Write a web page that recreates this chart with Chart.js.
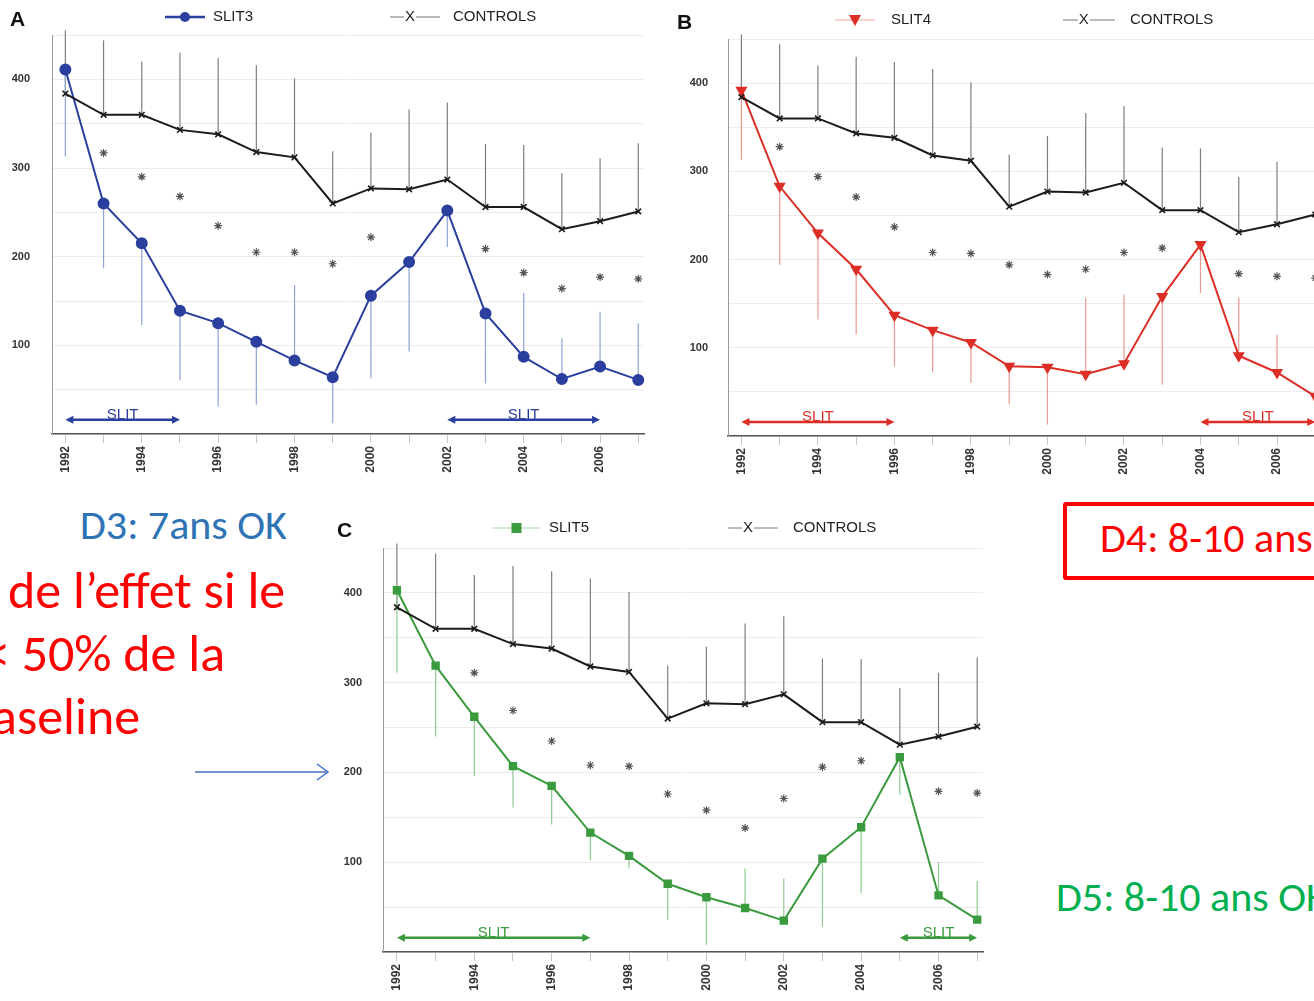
<!DOCTYPE html>
<html>
<head>
<meta charset="utf-8">
<script src="https://cdn.jsdelivr.net/npm/chart.js@4.4.0/dist/chart.umd.min.js"></script>
<style>
body { margin: 0; width: 1314px; height: 1001px; overflow: hidden; background: #fff; position: relative; }
canvas { position: absolute; }
.note { position: absolute; white-space: nowrap; font-family: Carlito, Lato, "Open Sans", sans-serif; line-height: 1; }
</style>
</head>
<body>
<canvas id="chartA" width="660" height="480" style="left:0;top:0"></canvas>
<canvas id="chartB" width="680" height="490" style="left:670px;top:0"></canvas>
<canvas id="chartC" width="670" height="496" style="left:330px;top:505px"></canvas>

<div class="note" style="left:80px;top:504px;font-size:42px;color:#2e74b5">D3: 7ans OK</div>
<div class="note" style="left:8px;top:564px;font-size:52px;color:#ff0000">de l’effet si le</div>
<div class="note" style="left:-16px;top:627px;font-size:52px;color:#ff0000">&lt; 50% de la</div>
<div class="note" style="left:-8px;top:690px;font-size:52px;color:#ff0000">aseline</div>
<div style="position:absolute;left:1063px;top:502px;width:262px;height:70px;border:4px solid #ff0000;border-radius:3px"></div>
<div class="note" style="left:1100px;top:517px;font-size:42px;color:#ff0000">D4: 8-10 ans</div>
<div class="note" style="left:1056px;top:876px;font-size:42px;color:#00b050">D5: 8-10 ans OK</div>
<svg style="position:absolute;left:0;top:0" width="1314" height="1001">
  <line x1="195" y1="772" x2="328" y2="772" stroke="#4472c4" stroke-width="1.5"/>
  <polyline points="317,764 328,772 317,780" fill="none" stroke="#4472c4" stroke-width="1.5"/>
</svg>

<script>
// shared x values and the control group
const years = [1992, 1993, 1994, 1995, 1996, 1997, 1998, 1999, 2000, 2001, 2002, 2003, 2004, 2005, 2006, 2007];
const controls = [384, 360, 360, 343, 338, 318, 312, 260, 277, 276, 287, 256, 256, 231, 240, 251];
const controlsBar = [455, 444, 420, 430, 424, 416, 401, 319, 340, 366, 374, 327, 326, 294, 311, 328];

// panel A
const slit3 = [411, 260, 215, 139, 125, 104, 83, 64, 156, 194, 252, 136, 87, 62, 76, 61];
const slit3Bar = [313, 187, 123, 61, 31, 33, 168, 12, 63, 93, 211, 57, 159, 108, 138, 125];
const slit3Stars = [null, 317, 290, 268, 235, 205, 205, 192, 222, null, null, 209, 182, 164, 177, 175];
const slit3Periods = [[1992, 1995], [2002, 2006]];

// panel B
const slit4 = [392, 283, 230, 189, 137, 120, 106, 79, 78, 70, 82, 158, 217, 91, 72, 45];
const slit4Bar = [313, 194, 132, 115, 79, 72, 60, 36, 13, 157, 160, 58, 162, 157, 115, 106];
const slit4Stars = [null, 328, 294, 271, 237, 208, 207, 194, 183, 189, 208, 213, null, 184, 181, 179];
const slit4Periods = [[1992, 1996], [2004, 2007]];

// panel C
const slit5 = [403, 319, 262, 207, 185, 133, 107, 76, 61, 49, 35, 104, 139, 217, 63, 36];
const slit5Bar = [311, 240, 196, 161, 142, 102, 93, 36, 8, 93, 82, 28, 66, 175, 100, 79];
const slit5Stars = [null, null, 311, 269, 235, 208, 207, 176, 158, 138, 171, 206, 213, null, 179, 177];
const slit5Periods = [[1992, 1997], [2005, 2007]];

const yTicks = [100, 200, 300, 400];
const FONT = '"Liberation Sans", Arial, sans-serif';

function pts(vals) {
  return years.map((yr, i) => ({ x: yr, y: vals[i] }));
}

function drawArrow(ctx, x1, x2, y, color) {
  ctx.strokeStyle = color;
  ctx.fillStyle = color;
  ctx.lineWidth = 2.5;
  ctx.beginPath();
  ctx.moveTo(x1 + 4, y);
  ctx.lineTo(x2 - 4, y);
  ctx.stroke();
  [[x1, 1], [x2, -1]].forEach(([x, d]) => {
    ctx.beginPath();
    ctx.moveTo(x, y);
    ctx.lineTo(x + 8 * d, y - 4);
    ctx.lineTo(x + 8 * d, y + 4);
    ctx.closePath();
    ctx.fill();
  });
}

function extras(cfg) {
  return {
    id: 'extras',
    beforeDatasetsDraw(chart) {
      const { ctx, scales: { x, y } } = chart;
      ctx.save();
      ctx.lineWidth = 1.2;
      // error bars
      [[controls, controlsBar, '#7e7e7e'], [cfg.vals, cfg.bar, cfg.barColor]].forEach(([vals, ends, col]) => {
        ctx.strokeStyle = col;
        years.forEach((yr, i) => {
          const px = x.getPixelForValue(yr);
          ctx.beginPath();
          ctx.moveTo(px, y.getPixelForValue(vals[i]));
          ctx.lineTo(px, y.getPixelForValue(ends[i]));
          ctx.stroke();
        });
      });
      // SLIT periods
      cfg.periods.forEach(([a, b]) => {
        const x1 = x.getPixelForValue(a), x2 = x.getPixelForValue(b);
        const py = y.getPixelForValue(16);
        drawArrow(ctx, x1, x2, py, cfg.color);
        ctx.font = '15px ' + FONT;
        ctx.textAlign = 'center';
        ctx.textBaseline = 'alphabetic';
        ctx.fillText('SLIT', (x1 + x2) / 2, py - 1);
      });
      ctx.restore();
    },
    afterDraw(chart) {
      const ctx = chart.ctx;
      const L = cfg.legend;
      ctx.save();
      ctx.fillStyle = '#111';
      ctx.font = 'bold 21px ' + FONT;
      ctx.textBaseline = 'middle';
      ctx.textAlign = 'left';
      ctx.fillText(cfg.letter, L.letter, L.y + 3);
      // series symbol
      ctx.strokeStyle = cfg.legendLine;
      ctx.lineWidth = cfg.legendWidth;
      ctx.beginPath();
      ctx.moveTo(L.s1[0], L.y);
      ctx.lineTo(L.s1[1], L.y);
      ctx.stroke();
      ctx.fillStyle = cfg.color;
      const mx = (L.s1[0] + L.s1[1]) / 2;
      ctx.beginPath();
      if (cfg.marker === 'circle') ctx.arc(mx, L.y, 5, 0, Math.PI * 2);
      else if (cfg.marker === 'triangle') { ctx.moveTo(mx - 6, L.y - 5); ctx.lineTo(mx + 6, L.y - 5); ctx.lineTo(mx, L.y + 6); ctx.closePath(); }
      else ctx.rect(mx - 5, L.y - 5, 10, 10);
      ctx.fill();
      ctx.fillStyle = '#222';
      ctx.font = '15px ' + FONT;
      ctx.fillText(cfg.name, L.t1, L.y);
      // controls symbol
      ctx.strokeStyle = '#777';
      ctx.lineWidth = 1;
      ctx.beginPath();
      ctx.moveTo(L.s2[0], L.y);
      ctx.lineTo(L.s2[1], L.y);
      ctx.stroke();
      const cx = L.s2[0] + (L.s2[1] - L.s2[0]) * 0.4;
      ctx.fillStyle = '#fff';
      ctx.fillRect(cx - 6, L.y - 7, 12, 14);
      ctx.fillStyle = '#222';
      ctx.textAlign = 'center';
      ctx.fillText('X', cx, L.y);
      ctx.textAlign = 'left';
      ctx.fillText('CONTROLS', L.t2, L.y);
      ctx.restore();
    }
  };
}

function buildChart(id, cfg) {
  return new Chart(document.getElementById(id), {
    type: 'line',
    data: {
      datasets: [
        {
          label: 'CONTROLS', data: pts(controls), borderColor: '#1c1c1c', backgroundColor: '#1c1c1c',
          borderWidth: 2, pointStyle: 'crossRot', pointRadius: 4, pointBorderWidth: 1.6, clip: false
        },
        {
          label: cfg.name, data: pts(cfg.vals), borderColor: cfg.color, backgroundColor: cfg.color,
          borderWidth: 2, pointStyle: cfg.marker, pointRadius: cfg.marker === 'rect' ? 4.5 : 5,
          pointRotation: cfg.marker === 'triangle' ? 180 : 0, clip: false
        },
        {
          label: '*', data: pts(cfg.stars), showLine: false, pointStyle: 'star', pointRadius: 4,
          borderColor: '#555', pointBorderWidth: 1.2
        }
      ]
    },
    options: {
      responsive: false,
      animation: false,
      events: [],
      layout: { padding: { top: cfg.top, right: cfg.right, left: 0, bottom: 0 } },
      plugins: { legend: { display: false }, tooltip: { enabled: false } },
      scales: {
        x: {
          type: 'linear', min: cfg.xmin, max: cfg.xmax,
          afterFit(s) { s.height = cfg.xh; },
          ticks: {
            stepSize: 1, includeBounds: false, autoSkip: false, maxRotation: 90, minRotation: 90,
            color: '#333', font: { family: FONT, size: 12, weight: 'bold' },
            callback: v => (v % 2 === 0 ? String(v) : '')
          },
          grid: { drawOnChartArea: false, tickLength: 9, color: '#c4c4c4' },
          border: { color: '#555', width: 1.5 }
        },
        y: {
          min: 0, max: 450,
          afterFit(s) { s.width = cfg.yw; },
          ticks: {
            stepSize: 50, padding: cfg.ypad, color: '#333', font: { family: FONT, size: 11, weight: 'bold' },
            callback: v => (yTicks.includes(v) ? String(v) : '')
          },
          grid: { color: '#ececec', drawTicks: false },
          border: { color: '#9a9a9a', width: 1 }
        }
      }
    },
    plugins: [extras(cfg)]
  });
}

buildChart('chartA', {
  letter: 'A', name: 'SLIT3', vals: slit3, bar: slit3Bar, stars: slit3Stars, periods: slit3Periods,
  color: '#2b3f9e', barColor: '#8ea3d8', marker: 'circle', legendLine: '#2b3f9e', legendWidth: 2.5,
  legend: { letter: 10, y: 17, s1: [165, 205], t1: 213, s2: [390, 440], t2: 453 },
  xmin: 1991.65, xmax: 2007.15, top: 35, right: 16, xh: 46, yw: 52, ypad: 22
});

buildChart('chartB', {
  letter: 'B', name: 'SLIT4', vals: slit4, bar: slit4Bar, stars: slit4Stars, periods: slit4Periods,
  color: '#dc2e26', barColor: '#eb9a92', marker: 'triangle', legendLine: '#f0a6a0', legendWidth: 1.2,
  legend: { letter: 7, y: 20, s1: [165, 205], t1: 221, s2: [393, 445], t2: 460 },
  xmin: 1991.65, xmax: 2007.15, top: 39, right: 29, xh: 54, yw: 58, ypad: 20
});

buildChart('chartC', {
  letter: 'C', name: 'SLIT5', vals: slit5, bar: slit5Bar, stars: slit5Stars, periods: slit5Periods,
  color: '#3a9a3e', barColor: '#8fca8f', marker: 'rect', legendLine: '#a6d3a6', legendWidth: 1.2,
  legend: { letter: 7, y: 23, s1: [163, 210], t1: 219, s2: [398, 448], t2: 463 },
  xmin: 1991.64, xmax: 2007.15, top: 43, right: 17, xh: 49, yw: 53, ypad: 21
});
</script>
</body>
</html>
